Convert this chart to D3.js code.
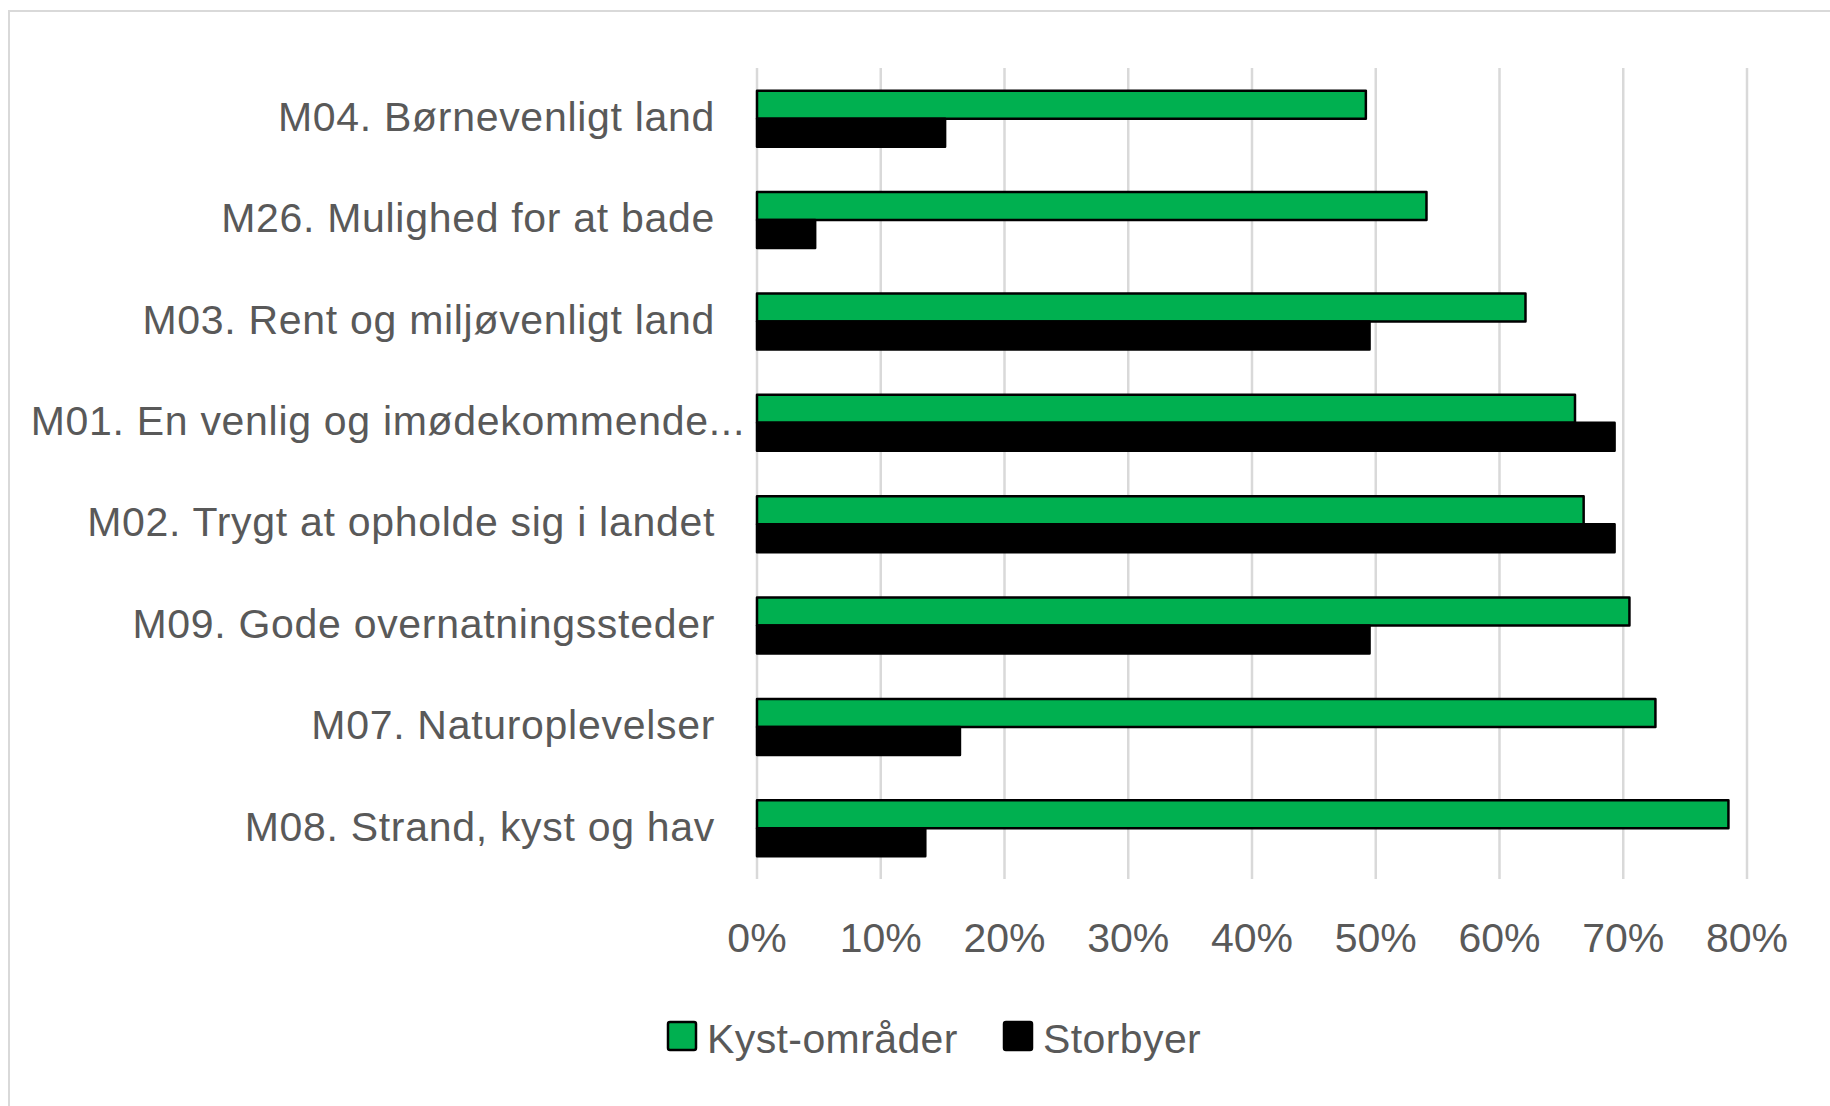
<!DOCTYPE html>
<html>
<head>
<meta charset="utf-8">
<script src="https://cdn.jsdelivr.net/npm/d3@7"></script>
<style>
  html, body { margin: 0; padding: 0; background: #fff; }
  svg text { font-family: "Liberation Sans", Arial, sans-serif; fill: #595959; }
</style>
</head>
<body>
<svg id="viz" width="1830" height="1106"></svg>
<script>
// categories top to bottom
var categories = [
  "M04. Børnevenligt land",
  "M26. Mulighed for at bade",
  "M03. Rent og miljøvenligt land",
  "M01. En venlig og imødekommende...",
  "M02. Trygt at opholde sig i landet",
  "M09. Gode overnatningssteder",
  "M07. Naturoplevelser",
  "M08. Strand, kyst og hav"
];
var kyst = [0.492, 0.541, 0.621, 0.661, 0.668, 0.705, 0.726, 0.785];
var storbyer = [0.152, 0.047, 0.495, 0.693, 0.693, 0.495, 0.164, 0.136];
var seriesNames = ["Kyst-områder", "Storbyer"];
var seriesColors = ["#00B050", "#000000"];
var ticks = [0, 0.1, 0.2, 0.3, 0.4, 0.5, 0.6, 0.7, 0.8];

var svg = d3.select("#viz");

// chart frame (only top/left edges fall inside the picture)
svg.append("rect")
  .attr("x", 9).attr("y", 11)
  .attr("width", 1900).attr("height", 1200)
  .attr("fill", "none")
  .attr("stroke", "#d9d9d9")
  .attr("stroke-width", 2);

var x = d3.scaleLinear().domain([0, 0.8]).range([757, 1747]);

var y0 = d3.scaleBand()
  .domain(categories)
  .range([68, 879])
  .paddingInner(0.448)
  .paddingOuter(0.224);

var y1 = d3.scaleBand()
  .domain(seriesNames)
  .range([0, y0.bandwidth()]);

// gridlines
svg.append("g")
  .selectAll("line")
  .data(ticks)
  .enter()
  .append("line")
  .attr("x1", function(d) { return x(d); })
  .attr("x2", function(d) { return x(d); })
  .attr("y1", 68)
  .attr("y2", 879)
  .attr("stroke", "#d9d9d9")
  .attr("stroke-width", 2.5);

// tick labels
svg.append("g")
  .selectAll("text")
  .data(ticks)
  .enter()
  .append("text")
  .attr("x", function(d) { return x(d); })
  .attr("y", 952)
  .attr("text-anchor", "middle")
  .style("font-size", "41px")
  .text(d3.format(".0%"));

// bars
var rows = categories.map(function(c, i) {
  return { cat: c, values: [kyst[i], storbyer[i]] };
});

var group = svg.append("g")
  .selectAll("g")
  .data(rows)
  .enter()
  .append("g")
  .attr("transform", function(d) { return "translate(0," + y0(d.cat) + ")"; });

group.selectAll("rect")
  .data(function(d) {
    return d.values.map(function(v, j) { return { name: seriesNames[j], value: v, j: j }; });
  })
  .enter()
  .append("rect")
  .attr("x", x(0))
  .attr("y", function(d) { return y1(d.name); })
  .attr("width", function(d) { return x(d.value) - x(0); })
  .attr("height", y1.bandwidth())
  .attr("fill", function(d) { return seriesColors[d.j]; })
  .attr("stroke", "#000")
  .attr("stroke-width", 2.5)
  .attr("stroke-linejoin", "round");

// category labels; a truncated one spills a little into the gap, like Excel does
svg.append("g")
  .selectAll("text")
  .data(categories)
  .enter()
  .append("text")
  .attr("x", function(d) { return /\.\.\.$/.test(d) ? 745 : 715; })
  .attr("y", function(d) { return y0(d) + y0.bandwidth() / 2; })
  .attr("dy", "0.3em")
  .attr("text-anchor", "end")
  .style("font-size", "41px")
  .style("letter-spacing", "0.7px")
  .text(function(d) { return d; });

// legend
var legendX = [668, 1004];
var legend = svg.append("g")
  .selectAll("g")
  .data(seriesNames)
  .enter()
  .append("g")
  .attr("transform", function(d, i) { return "translate(" + legendX[i] + ",1022)"; });

legend.append("rect")
  .attr("width", 28)
  .attr("height", 28)
  .attr("rx", 2)
  .attr("fill", function(d, i) { return seriesColors[i]; })
  .attr("stroke", "#000")
  .attr("stroke-width", 2.5);

legend.append("text")
  .attr("x", 39)
  .attr("y", 31)
  .style("font-size", "41px")
  .style("letter-spacing", "0.4px")
  .text(function(d) { return d; });
</script>
</body>
</html>
